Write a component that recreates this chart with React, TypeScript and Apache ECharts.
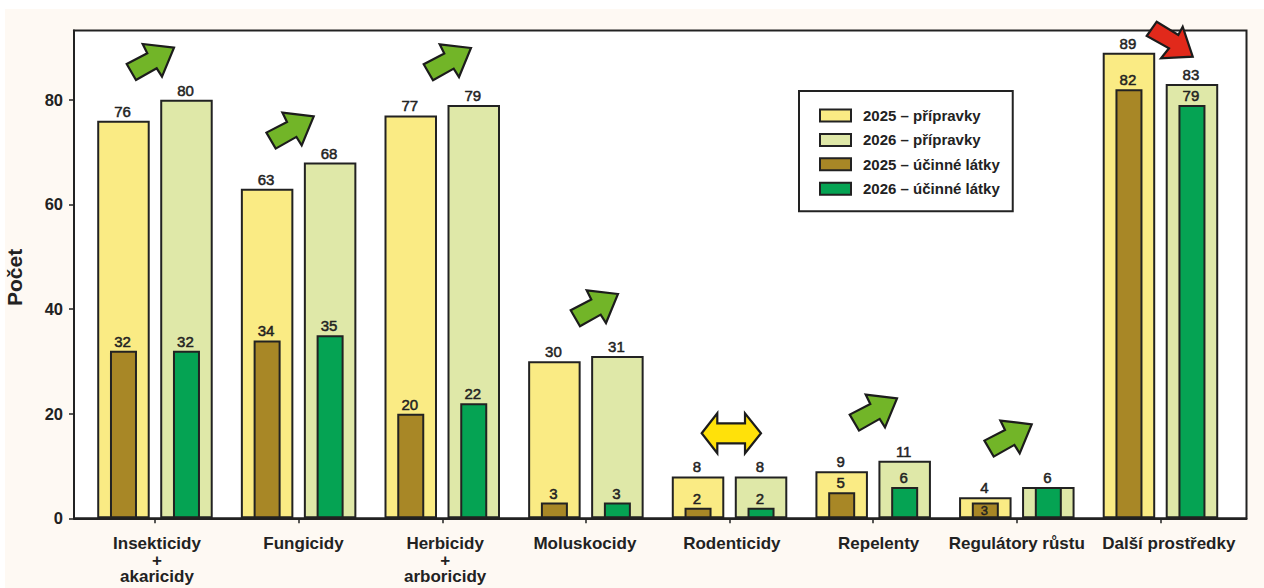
import React, { useEffect, useRef } from "react";
import * as echarts from "echarts";

const categories = [
  "Insekticidy\n+\nakaricidy",
  "Fungicidy",
  "Herbicidy\n+\narboricidy",
  "Moluskocidy",
  "Rodenticidy",
  "Repelenty",
  "Regulátory růstu",
  "Další prostředky",
];
const products2025 = [76, 63, 77, 30, 8, 9, 4, 89];
const products2026 = [80, 68, 79, 31, 8, 11, 6, 83];
const actives2025 = [32, 34, 20, 3, 2, 5, 3, 82];
const actives2026 = [32, 35, 22, 3, 2, 6, 6, 79];
const yTicks = [0, 20, 40, 60, 80];
const xTicks = [0, 1, 2, 3, 4, 5, 6, 7];
const labelNudges = [0.014, 0.034, 0.02, -0.007, 0.016, 0.038, 0, 0.058];

const greenTips = [
  [174, 47.7],
  [313.7, 116.3],
  [471, 48],
  [618, 294],
  [897, 398.3],
  [1031.7, 424.3],
];
const greenArrow = [
  [0, 0], [-31.3, -3.7], [-26.7, 5.6], [-47.3, 16.3], [-38, 32.3], [-17.3, 20.6], [-12, 29],
];
const redArrow = [
  [1192.7, 56.7], [1182.7, 26.7], [1178.3, 35], [1156.7, 21.7], [1146.7, 36], [1169, 48.3], [1161, 58.3],
];
const yellowArrow = [
  [701.7, 433.3], [717.3, 413.3], [717.3, 423.3], [745, 423.3], [745, 413.3], [761, 433.3],
  [745, 453.3], [745, 443.3], [717.3, 443.3], [717.3, 453.3],
];

const INK = "#222222";
const FONT = '"Liberation Sans", Arial, sans-serif';

const arrow = (points: number[][], fill: string) => ({
  type: "polygon",
  z: 20,
  shape: { points },
  style: { fill, stroke: "#1c1c1c", lineWidth: 2.2, lineJoin: "miter" },
  silent: true,
});

const labelBase = {
  show: true,
  position: "top",
  distance: 2,
  offset: [-1, 0],
  fontFamily: FONT,
  fontSize: 15,
  color: INK,
  textBorderColor: INK,
  textBorderWidth: 0.5,
};

function points(values: number[], custom?: (i: number) => object | undefined) {
  return values.map((v, i) => {
    const label = custom ? custom(i) : undefined;
    return label ? { value: [i, v], label } : { value: [i, v] };
  });
}

const barSeries = (
  name: string,
  values: number[],
  color: string,
  axis: number,
  width: number,
  gap: string,
  z: number,
  custom?: (i: number) => object | undefined,
) => ({
  name,
  type: "bar",
  xAxisIndex: axis,
  yAxisIndex: 0,
  barWidth: width,
  barGap: gap,
  z,
  data: points(values, custom),
  itemStyle: { color, borderColor: INK, borderWidth: 2 },
  label: { ...labelBase },
  clip: false,
});

export default function App() {
  const ref = useRef<HTMLDivElement>(null);
  useEffect(() => {
    const chart = echarts.init(ref.current!, undefined, { renderer: "svg" });
    const xRange = { min: -0.5637, max: 7.599 };
    chart.setOption({
      animation: false,
      textStyle: { fontFamily: FONT },
      grid: {
        show: true,
        outerBoundsMode: "none",
        left: 74,
        top: 30.5,
        width: 1172.5,
        height: 487.8,
        backgroundColor: "#ffffff",
        borderColor: INK,
        borderWidth: 2,
      },
      xAxis: [
        {
          type: "value",
          ...xRange,
          splitLine: { show: false },
          axisLine: { show: true, onZero: false, lineStyle: { color: INK, width: 2 } },
          axisTick: { show: true, length: 5, lineStyle: { color: INK, width: 1.5 }, customValues: xTicks },
          axisLabel: {
            show: true,
            margin: 17,
            fontFamily: FONT,
            fontWeight: "bold",
            fontSize: 17,
            lineHeight: 16.5,
            color: INK,
            verticalAlign: "top",
            customValues: categories.map((_, i) => i + labelNudges[i]),
            formatter: (v: number) => categories[Math.round(v)],
          },
        },
        { type: "value", ...xRange, show: false, splitLine: { show: false } },
      ],
      yAxis: {
        type: "value",
        min: 0,
        max: 93.23,
        name: "Počet",
        nameLocation: "middle",
        nameGap: 49.5,
        nameTextStyle: { fontFamily: FONT, fontWeight: "bold", fontSize: 21, color: INK, padding: [0, 6, 0, 0] },
        splitLine: { show: false },
        axisLine: { show: true, onZero: false, lineStyle: { color: INK, width: 2 } },
        axisTick: { show: true, length: 5, lineStyle: { color: INK, width: 1.5 }, customValues: yTicks },
        axisLabel: {
          margin: 11,
          fontFamily: FONT,
          fontWeight: "bold",
          fontSize: 16.5,
          color: INK,
          customValues: yTicks,
        },
      },
      legend: {
        left: 799,
        top: 91,
        orient: "vertical",
        selectedMode: false,
        backgroundColor: "#ffffff",
        borderColor: INK,
        borderWidth: 2,
        padding: [17, 13, 15, 20],
        itemWidth: 31,
        itemHeight: 12,
        itemGap: 9.4,
        icon: "rect",
        data: ["2025 – přípravky", "2026 – přípravky", "2025 – účinné látky", "2026 – účinné látky"],
        textStyle: { fontFamily: FONT, fontWeight: "bold", fontSize: 15, color: INK, padding: [0, 0, 0, 7] },
      },
      series: [
        barSeries("2025 – přípravky", products2025, "#FAEB84", 0, 52.5, "20%", 2),
        barSeries("2026 – přípravky", products2026, "#DFE8A8", 0, 52.5, "20%", 2),
        barSeries("2025 – účinné látky", actives2025, "#A88726", 1, 27, "133.3%", 3, (i) =>
          products2025[i] - actives2025[i] === 1
            ? { position: "inside", distance: 0, fontSize: 13 }
            : undefined,
        ),
        barSeries("2026 – účinné látky", actives2026, "#05A353", 1, 27, "133.3%", 3, (i) =>
          actives2026[i] === products2026[i] ? { show: false } : undefined,
        ),
      ],
      graphic: [
        { type: "rect", z: -10, shape: { x: 5, y: 9, width: 1259, height: 579 }, style: { fill: "#FEF9F3" }, silent: true },
        ...greenTips.map(([x, y]) => arrow(greenArrow.map(([a, b]) => [x + a, y + b]), "#72B528")),
        arrow(redArrow, "#E1291B"),
        arrow(yellowArrow, "#FFE10A"),
      ],
    });
    return () => chart.dispose();
  }, []);
  return (
    <div
      ref={ref}
      style={{ position: "absolute", left: 0, top: 0, width: 1264, height: 588, background: "#ffffff" }}
    />
  );
}
